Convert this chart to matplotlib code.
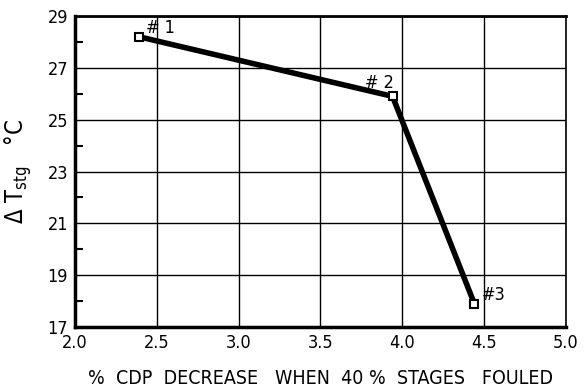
import matplotlib
matplotlib.use('Agg')
import matplotlib.pyplot as plt
from matplotlib.ticker import FixedLocator

cdp_decrease = [2.39, 3.94, 4.44]
delta_t = [28.2, 25.9, 17.9]
point_labels = ['# 1', '# 2', '#3']
x_ticks = [2.0, 2.5, 3.0, 3.5, 4.0, 4.5, 5.0]
y_ticks = [17, 19, 21, 23, 25, 27, 29]

plt.rcParams['font.family'] = ['DejaVu Sans']
plt.rcParams['font.stretch'] = 'condensed'

fig = plt.figure(figsize=(5.85, 3.92), dpi=100)
ax = fig.add_axes([75 / 585, 1 - 327 / 392, 491 / 585, 311 / 392])

ax.plot(cdp_decrease, delta_t, color='black', linewidth=4, marker='s', markersize=6,
        markerfacecolor='white', markeredgecolor='black', markeredgewidth=1.5, zorder=3)

offsets = [(5, 3), (-20, 6), (5, 3)]
for xx, yy, lab, off in zip(cdp_decrease, delta_t, point_labels, offsets):
    ax.annotate(lab, (xx, yy), xytext=off, textcoords='offset points', fontsize=13)

ax.set_xlim(2.0, 5.0)
ax.set_ylim(17, 29)
ax.set_xticks(x_ticks)
ax.set_xticklabels(['%.1f' % v for v in x_ticks])
ax.set_yticks(y_ticks)
ax.yaxis.set_minor_locator(FixedLocator([18, 20, 22, 24, 26, 28]))
ax.grid(True, which='major', color='black', linewidth=1)
ax.tick_params(axis='both', which='major', length=0, labelsize=13, pad=5)
ax.tick_params(axis='y', which='minor', direction='in', length=6, width=1.5, left=True)

ax.spines['left'].set_linewidth(2.5)
ax.spines['bottom'].set_linewidth(2.5)
ax.spines['top'].set_linewidth(2)
ax.spines['right'].set_linewidth(1.2)

ax.set_xlabel('%  CDP  DECREASE   WHEN  40 %  STAGES   FOULED', fontsize=14, labelpad=12)
ax.set_ylabel(r'$\Delta$ T$_{\rm stg}$   °C', fontsize=17, labelpad=10)

plt.savefig('out.png')
